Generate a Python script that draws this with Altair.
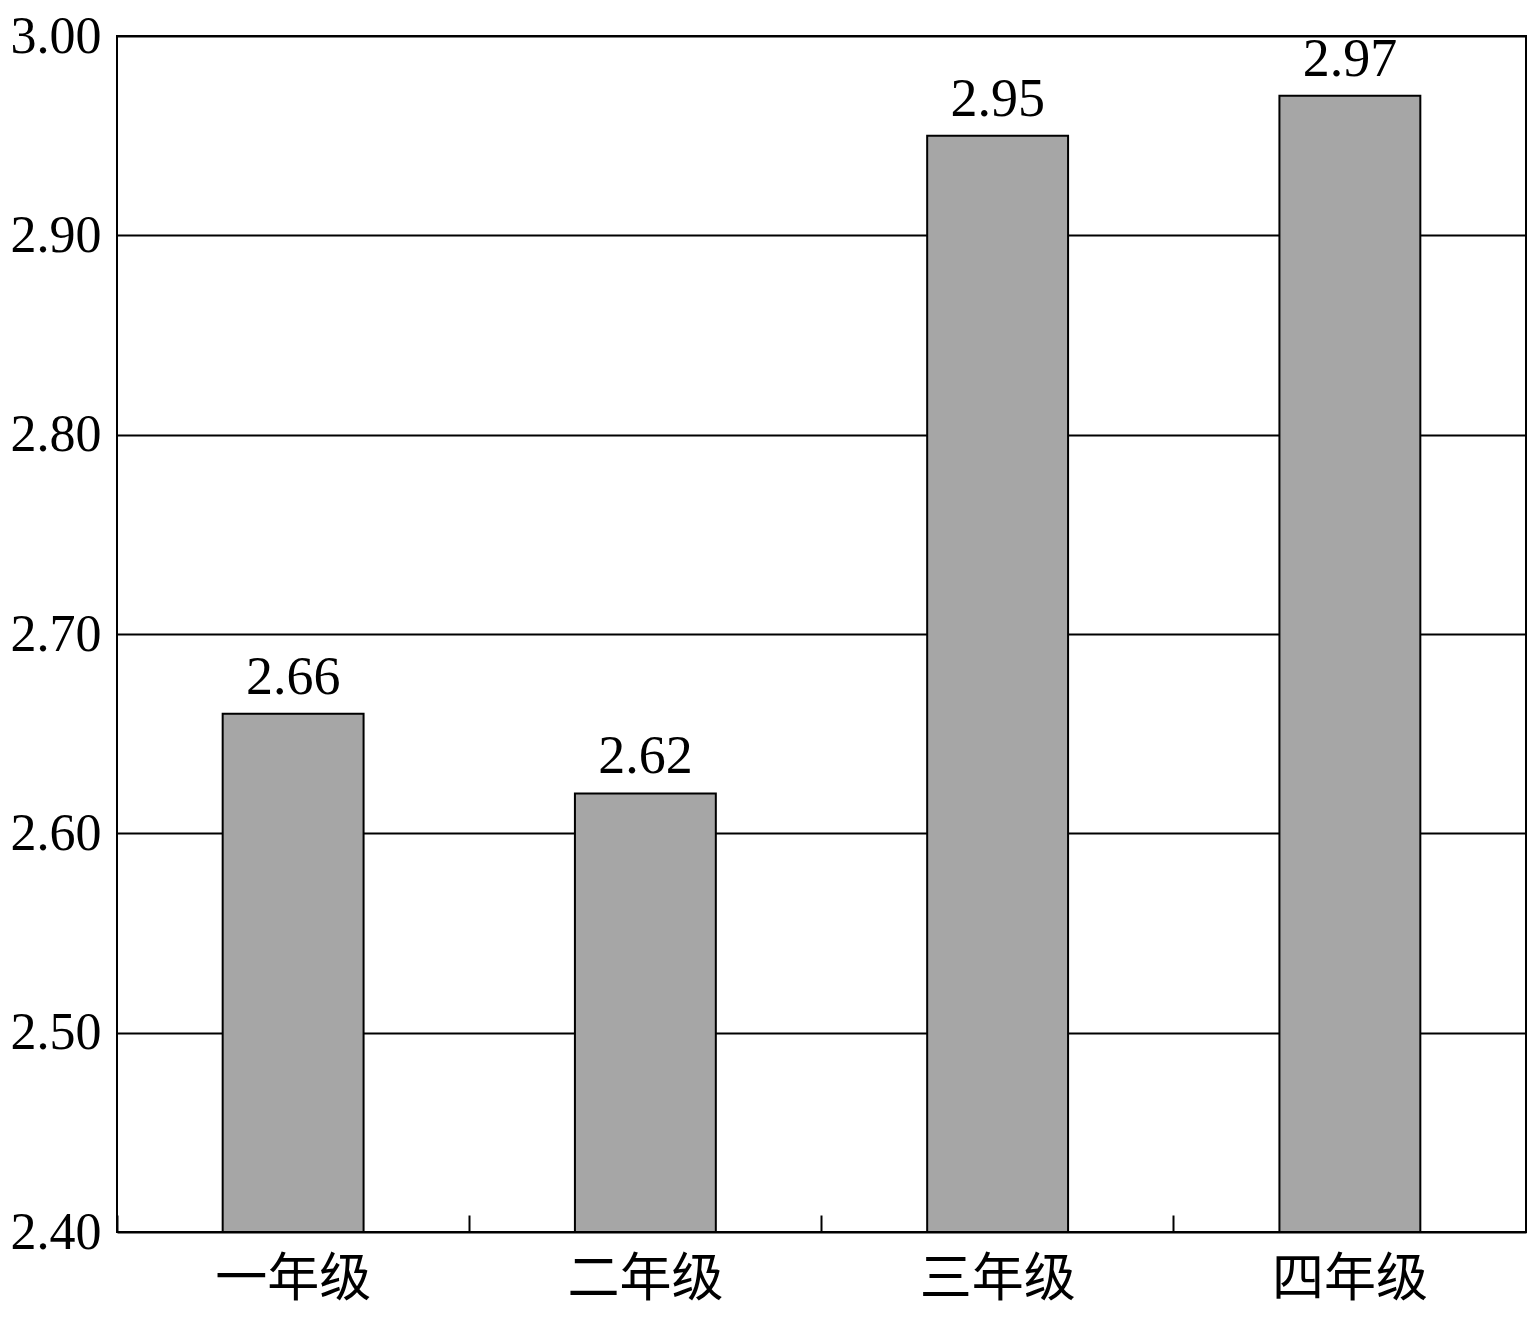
import altair as alt
import pandas as pd

grades = ["一年级", "二年级", "三年级", "四年级"]
values = [2.66, 2.62, 2.95, 2.97]
y_ticks = [2.40, 2.50, 2.60, 2.70, 2.80, 2.90, 3.00]

df = pd.DataFrame({"grade": grades, "value": values})

FONT = "Liberation Serif, Noto Sans CJK SC"

xscale = alt.Scale(paddingInner=0.6, paddingOuter=0.3)
yscale = alt.Scale(domain=[2.4, 3.0], nice=False, zero=False)

bars = alt.Chart(df).mark_bar(color="#a6a6a6", stroke="black", strokeWidth=2).encode(
    x=alt.X("grade:N", sort=grades, scale=xscale,
            axis=alt.Axis(orient="bottom", title=None, ticks=False, domain=False,
                          labelAngle=0, labelFontSize=52, labelFont=FONT,
                          labelColor="black", labelPadding=22)),
    y=alt.Y("value:Q", scale=yscale,
            axis=alt.Axis(values=y_ticks, format=".2f", ticks=False, domain=False,
                          grid=True, gridColor="black", gridWidth=2, gridOpacity=1,
                          labelFontSize=52, labelFont=FONT, labelColor="black",
                          labelPadding=16, labelFlush=False, title=None)),
    y2=alt.datum(2.4),
)

text = alt.Chart(df).mark_text(dy=-20, baseline="alphabetic", fontSize=54,
                               font=FONT, color="black").encode(
    x=alt.X("grade:N", sort=grades, scale=xscale,
            axis=alt.Axis(orient="bottom", offset=-17, bandPosition=-0.75, tickSize=17,
                          tickColor="black", tickWidth=2, labels=False, domain=False,
                          grid=False, title=None)),
    y=alt.Y("value:Q", scale=yscale),
    text=alt.Text("value:Q", format=".2f"),
)

chart = (
    alt.layer(bars, text)
    .resolve_axis(x="independent")
    .properties(width=1409, height=1196,
                background="white",
                autosize=alt.AutoSizeParams(type="none"),
                padding={"left": 109, "top": 28, "right": 2, "bottom": 75})
    .configure_view(stroke="black", strokeWidth=2)
)

chart.save("out.html", embed_options={"renderer": "svg", "actions": False})
